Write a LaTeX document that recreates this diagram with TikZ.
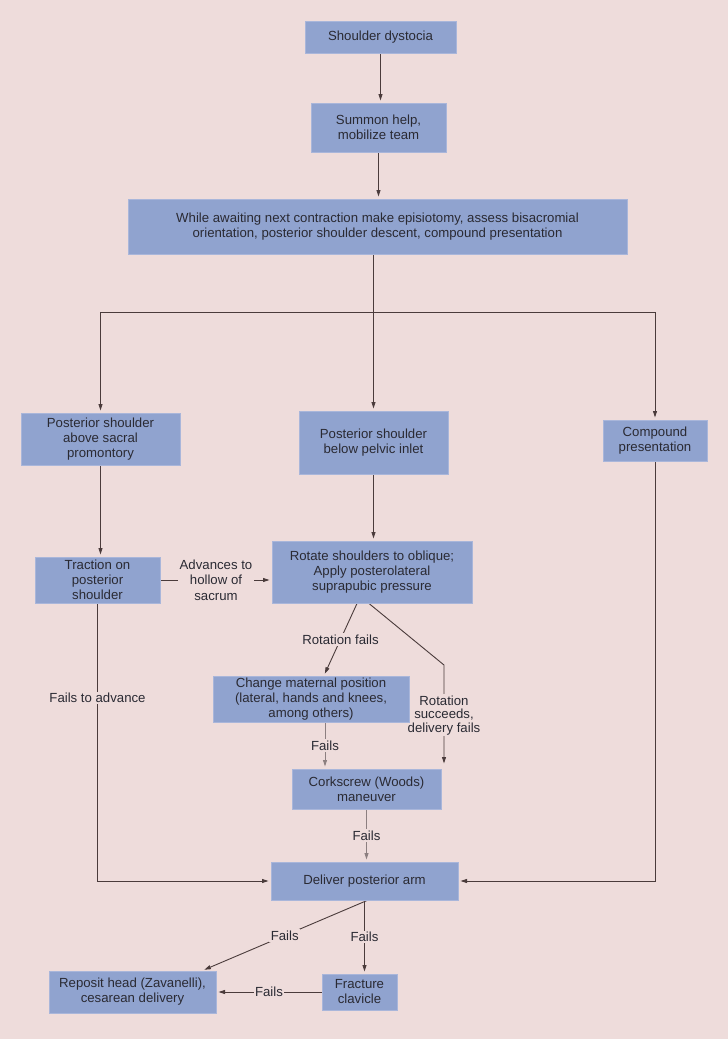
\documentclass[tikz,border=0pt]{standalone}
\usepackage{fontspec}
\setmainfont{Liberation Sans}
\usetikzlibrary{arrows.meta,calc}
\definecolor{bg}{HTML}{EEDCDB}
\definecolor{boxfill}{HTML}{90A3CF}
\definecolor{boxedge}{HTML}{A9B6DA}
\definecolor{ln}{HTML}{4A3B3B}
\definecolor{txt}{HTML}{2A2A33}
\definecolor{lngray}{HTML}{8C7F80}
\pgfdeclarelayer{paper}
\pgfdeclarelayer{back}
\pgfsetlayers{paper,back,main}
\begin{document}
\begin{tikzpicture}[x=1pt,y=-1pt,
 box/.style={draw=boxedge, line width=1pt, fill=boxfill, inner sep=0pt, align=center, text=txt, font=\fontsize{13.2}{15}\selectfont},
 conn/.style={draw=ln, line width=0.9pt},
 arr/.style={conn, shorten >=2pt, -{Triangle[length=6.5pt,width=4pt]}},
 grayarr/.style={arr, draw=lngray},
 lab/.style={fill=bg, inner sep=1.5pt, align=center, text=txt, font=\fontsize{13.2}{15.5}\selectfont}]
\begin{pgfonlayer}{paper}
\fill[bg] (0,0) rectangle (728,1039);
\end{pgfonlayer}
\useasboundingbox (0,0) rectangle (728,1039);

\node[box, minimum width=151pt, minimum height=32pt] (n1) at (380.5,37) {Shoulder dystocia};
\node[box, minimum width=135pt, minimum height=49pt] (n2) at (378.5,127.5) {Summon help,\\mobilize team};
\node[box, minimum width=499pt, minimum height=55pt] (n3) at (377.5,226.5) {While awaiting next contraction make episiotomy, assess bisacromial\\orientation, posterior shoulder descent, compound presentation};
\node[box, minimum width=159pt, minimum height=52pt] (n4) at (100.5,439) {Posterior shoulder\\above sacral\\promontory};
\node[box, minimum width=149pt, minimum height=63pt] (n5) at (373.5,442.5) {Posterior shoulder\\below pelvic inlet};
\node[box, minimum width=104pt, minimum height=41pt] (n6) at (655,440.5) {Compound\\presentation};
\node[box, minimum width=125pt, minimum height=46pt] (n7) at (97.5,580) {Traction on\\posterior\\shoulder};
\node[box, minimum width=200pt, minimum height=62pt] (n8) at (372,572) {Rotate shoulders to oblique;\\Apply posterolateral\\suprapubic pressure};
\node[box, minimum width=196pt, minimum height=46pt] (n9) at (311,699) {Change maternal position\\(lateral, hands and knees,\\among others)};
\node[box, minimum width=149pt, minimum height=40pt] (n10) at (366.5,789) {Corkscrew (Woods)\\maneuver};
\node[box, minimum width=187pt, minimum height=38pt] (n11) at (364.5,881) {Deliver posterior arm};
\node[box, minimum width=167pt, minimum height=42pt] (n12) at (132.5,992) {Reposit head (Zavanelli),\\cesarean delivery};
\node[box, minimum width=75pt, minimum height=36pt] (n13) at (359.5,992) {Fracture\\clavicle};

\begin{pgfonlayer}{back}
% top chain
\draw[arr] (n1.south) -- (n1.south |- n2.north);
\draw[arr] (n2.south) -- (n2.south |- n3.north);
% split
\coordinate (hb) at (0,312);
\draw[conn] (n5.north |- n3.south) -- (n5.north |- hb);
\draw[conn] (n4.north |- hb) -- (n6.north |- hb);
\draw[arr] (n4.north |- hb) -- (n4.north);
\draw[arr] (n5.north |- hb) -- (n5.north);
\draw[arr] (n6.north |- hb) -- (n6.north);
% second level
\draw[arr] (n4.south) -- (n4.south |- n7.north);
\draw[arr] (n5.south) -- (n5.south |- n8.north);
\draw[arr] (n7.east) -- node[lab]{Advances to\\hollow of\\sacrum} (n7.east -| n8.west);
\draw[arr] (n7.south) -- node[lab, pos=0.34]{Fails to advance} (n7.south |- n11.west) -- (n11.west);
\draw[arr] (n6.south) -- (n6.south |- n11.east) -- (n11.east);
% rotation branch
\draw[arr] ($(n8.south)+(-15,0)$) -- node[lab]{Rotation fails} ($(n9.north)+(13,0)$);
\coordinate (bend) at (444,665);
\draw[arr] ($(n8.south)+(-3,0)$) -- (bend) -- node[lab, inner xsep=0.5pt, font=\fontsize{13.2}{13.5}\selectfont]{Rotation\\succeeds,\\delivery fails} ($(bend |- n10.north)+(0,-3)$);
\coordinate (c9) at ($(n9.south)+(14,0)$);
\draw[grayarr] (c9) -- node[lab]{Fails} (c9 |- n10.north);
\draw[grayarr] (n10.south) -- node[lab]{Fails} (n10.south |- n11.north);
% bottom
\draw[arr] ($(n11.south)+(2.5,0)$) -- node[lab]{Fails} ($(n12.north east)+(-14,0)$);
\draw[arr] (n11.south) -- node[lab]{Fails} (n11.south |- n13.north);
\draw[arr] (n13.west) -- node[lab]{Fails} (n13.west -| n12.east);
\end{pgfonlayer}
\end{tikzpicture}
\end{document}
